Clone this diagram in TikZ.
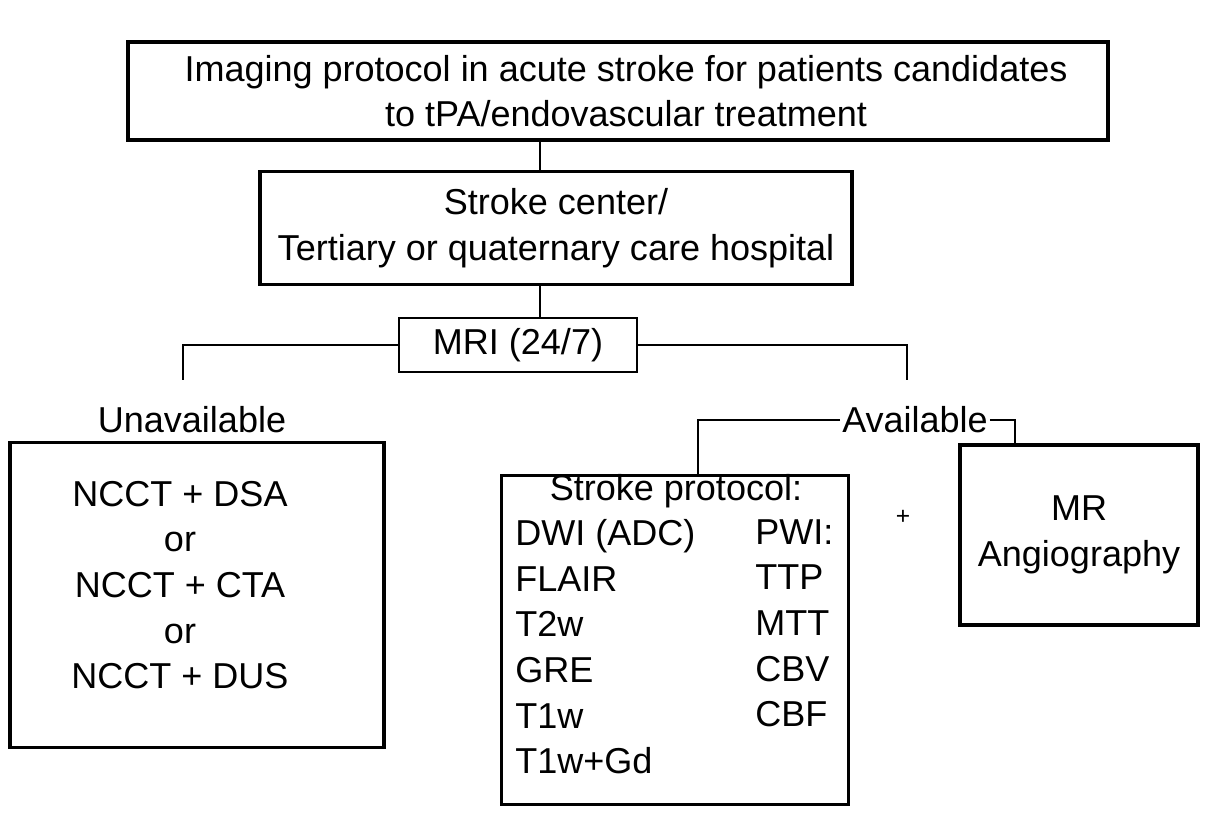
\documentclass[tikz,border=0pt]{standalone}
\usepackage{fontspec}
\setmainfont{Liberation Sans}
\begin{document}
\begin{tikzpicture}[x=0.02cm,y=-0.02cm,
    box/.style={draw, line width=1.9pt, inner sep=0pt},
    txt/.style={font=\fontsize{20.5}{26}\selectfont, align=center},
    col/.style={font=\fontsize{20.5}{26}\selectfont, align=left, anchor=north west, inner sep=0pt},
    link/.style={line width=0.9pt}
  ]
  \useasboundingbox (0,0) rectangle (1209,818);
  % boxes
  \node[box, minimum width=980*0.02cm, minimum height=98*0.02cm] (title) at (618,91) {};
  \node[txt] at (626,91) {Imaging protocol in acute stroke for patients candidates\\to tPA/endovascular treatment};
  \node[box, minimum width=592*0.02cm, minimum height=113*0.02cm] (center) at (556,228) {};
  \node[txt] at (556,228) {Stroke center/\\Tertiary or quaternary care hospital};
  \node[box, line width=1pt, minimum width=238*0.02cm, minimum height=54*0.02cm] (mri) at (518,345) {};
  \node[txt] at (mri) {MRI (24/7)};
  \node[box, minimum width=374*0.02cm, minimum height=305*0.02cm] (unavail) at (197,595) {};
  \node[txt] at (180,585) {NCCT + DSA\\or\\NCCT + CTA\\or\\NCCT + DUS};
  \node[box, minimum width=347*0.02cm, minimum height=329*0.02cm] (protocol) at (675,640) {};
  \node[txt] at (676,491) {Stroke protocol:};
  \node[col] at (515,519) {DWI (ADC)\\FLAIR\\T2w\\GRE\\T1w\\T1w+Gd};
  \node[col] at (755,519) {PWI:\\TTP\\MTT\\CBV\\CBF};
  \node[box, minimum width=238*0.02cm, minimum height=180*0.02cm] (mra) at (1079,535) {};
  \node[txt] at (mra) {MR\\Angiography};
  \node[txt] (plus) at (903,517) {\fontsize{14}{16}\selectfont +};
  % labels
  \node[txt, inner sep=1pt] (unl) at (192,420) {Unavailable};
  \node[txt, inner sep=1pt] (avl) at (915,420) {Available};
  % connectors
  \draw[link] (title.south -| 540,0) -- (center.north -| 540,0);
  \draw[link, line width=0.6pt] (center.south -| 540,0) -- (mri.north -| 540,0);
  \draw[link] (mri.west) -| (183,380);
  \draw[link] (mri.east) -| (907,380);
  \draw[link] (avl.west) -| (protocol.north -| 698,0);
  \draw[link] (avl.east) -| (mra.north -| 1015,0);
\end{tikzpicture}
\end{document}
